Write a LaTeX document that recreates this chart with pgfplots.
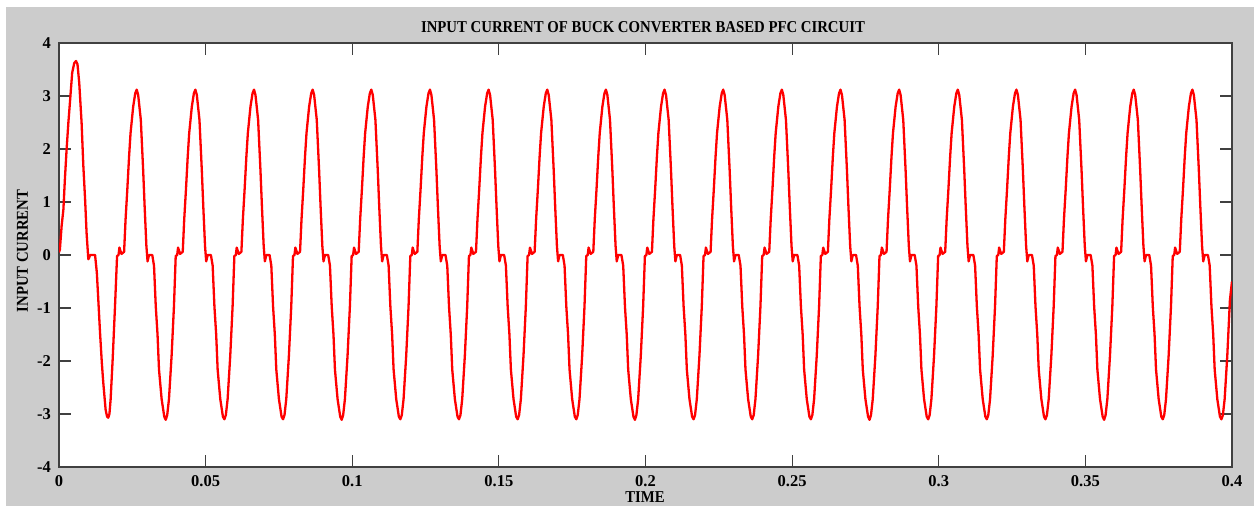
\documentclass[border=0pt]{standalone}
\usepackage{fontspec}
\setmainfont{Liberation Serif}
\usepackage{graphicx}
\usepackage{pgfplots}
\pgfplotsset{compat=1.18}
\definecolor{figgray}{RGB}{204,204,204}
\newcommand{\lblfont}{\bfseries\fontsize{16.6}{16.6}\selectfont}
\begin{document}
\begin{tikzpicture}
\path[use as bounding box] (0,0) rectangle (1254pt,506pt);
\fill[white] (0,0) rectangle (1254pt,506pt);
\fill[figgray] (6pt,0) rectangle (1254pt,499pt);
\begin{axis}[
  at={(59pt,39pt)}, anchor=south west,
  scale only axis, width=1173pt, height=424pt,
  xmin=0, xmax=0.4, ymin=-4, ymax=4,
  xtick={0,0.05,0.1,0.15,0.2,0.25,0.3,0.35,0.4},
  xticklabels={0,0.05,0.1,0.15,0.2,0.25,0.3,0.35,0.4},
  ytick={-4,-3,-2,-1,0,1,2,3,4},
  yticklabels={-4,-3,-2,-1,0,1,2,3,4},
  scaled x ticks=false, scaled y ticks=false,
  tick align=inside, tick pos=both, major tick length=12pt,
  minor tick num=0,
  axis line style={black!75, line width=1.2pt},
  tick style={black!75, line width=1.2pt},
  ticklabel style={font=\bfseries\fontsize{16.5}{16.5}\selectfont, inner sep=0pt},
  xticklabel style={yshift=-8pt},
  yticklabel style={xshift=-8pt},
  axis background/.style={fill=white},
]
\addplot[red, line width=2.3pt, line join=round] coordinates {
(0,0.05)(0.0003,0.10)(0.0009,0.55)(0.0015,0.86)(0.0020,1.42)(0.0026,2.00)(0.0032,2.50)(0.0038,2.93)(0.0045,3.44)(0.0052,3.62)(0.0058,3.66)(0.0063,3.60)(0.0069,3.25)(0.0077,2.50)(0.0083,1.68)(0.0089,1.05)(0.0094,0.42)(0.0100,-0.08)(0.0103,-0.05)(0.0106,0.00)(0.0123,0.00)(0.0129,-0.33)(0.0134,-0.84)(0.0140,-1.47)(0.0146,-2.03)(0.0151,-2.41)(0.0159,-2.92)(0.0164,-3.05)(0.0168,-3.07)(0.0172,-3.00)(0.0176,-2.73)(0.0183,-1.97)(0.0191,-0.97)(0.0198,-0.02)
(0.0203,0.00)(0.0206,0.14)(0.0213,0.02)(0.0222,0.06)(0.0227,0.67)(0.0233,1.24)(0.0239,1.86)(0.0244,2.30)(0.0253,2.80)(0.0260,3.05)(0.0265,3.12)(0.0270,3.02)(0.0279,2.55)(0.0287,1.60)(0.0292,0.92)(0.0298,0.17)(0.0302,-0.12)(0.0307,0.00)(0.0318,0.00)(0.0324,-0.20)(0.0330,-0.97)(0.0336,-1.50)(0.0341,-2.16)(0.0350,-2.72)(0.0359,-3.05)(0.0364,-3.11)(0.0369,-3.02)(0.0375,-2.72)(0.0384,-1.90)(0.0392,-0.97)(0.0398,-0.02)
(0.0403,0.00)(0.0406,0.14)(0.0413,0.02)(0.0422,0.06)(0.0427,0.67)(0.0433,1.24)(0.0439,1.86)(0.0444,2.30)(0.0453,2.80)(0.0460,3.05)(0.0465,3.12)(0.0470,3.02)(0.0479,2.55)(0.0487,1.60)(0.0492,0.92)(0.0498,0.17)(0.0502,-0.12)(0.0507,0.00)(0.0518,0.00)(0.0524,-0.20)(0.0530,-0.97)(0.0536,-1.50)(0.0541,-2.16)(0.0550,-2.72)(0.0559,-3.05)(0.0564,-3.10)(0.0569,-3.02)(0.0575,-2.72)(0.0584,-1.90)(0.0592,-0.97)(0.0598,-0.02)
(0.0603,0.00)(0.0606,0.14)(0.0613,0.02)(0.0622,0.06)(0.0627,0.67)(0.0633,1.24)(0.0639,1.86)(0.0644,2.30)(0.0653,2.80)(0.0660,3.05)(0.0665,3.12)(0.0670,3.02)(0.0679,2.55)(0.0687,1.60)(0.0692,0.92)(0.0698,0.17)(0.0702,-0.12)(0.0707,0.00)(0.0718,0.00)(0.0724,-0.20)(0.0730,-0.97)(0.0736,-1.50)(0.0741,-2.16)(0.0750,-2.72)(0.0759,-3.05)(0.0764,-3.10)(0.0769,-3.02)(0.0775,-2.72)(0.0784,-1.90)(0.0792,-0.97)(0.0798,-0.02)
(0.0803,0.00)(0.0806,0.14)(0.0813,0.02)(0.0822,0.06)(0.0827,0.67)(0.0833,1.24)(0.0839,1.86)(0.0844,2.30)(0.0853,2.80)(0.0860,3.05)(0.0865,3.12)(0.0870,3.02)(0.0879,2.55)(0.0887,1.60)(0.0892,0.92)(0.0898,0.17)(0.0902,-0.12)(0.0907,0.00)(0.0918,0.00)(0.0924,-0.20)(0.0930,-0.97)(0.0936,-1.50)(0.0941,-2.16)(0.0950,-2.72)(0.0959,-3.05)(0.0964,-3.11)(0.0969,-3.02)(0.0975,-2.72)(0.0984,-1.90)(0.0992,-0.97)(0.0998,-0.02)
(0.1003,0.00)(0.1006,0.14)(0.1013,0.02)(0.1022,0.06)(0.1027,0.67)(0.1033,1.24)(0.1039,1.86)(0.1044,2.30)(0.1053,2.80)(0.1060,3.05)(0.1065,3.12)(0.1070,3.02)(0.1079,2.55)(0.1087,1.60)(0.1092,0.92)(0.1098,0.17)(0.1102,-0.12)(0.1107,0.00)(0.1118,0.00)(0.1124,-0.20)(0.1130,-0.97)(0.1136,-1.50)(0.1141,-2.16)(0.1150,-2.72)(0.1159,-3.05)(0.1164,-3.10)(0.1169,-3.02)(0.1175,-2.72)(0.1184,-1.90)(0.1192,-0.97)(0.1198,-0.02)
(0.1203,0.00)(0.1206,0.14)(0.1213,0.02)(0.1222,0.06)(0.1227,0.67)(0.1233,1.24)(0.1239,1.86)(0.1244,2.30)(0.1253,2.80)(0.1260,3.05)(0.1265,3.12)(0.1270,3.02)(0.1279,2.55)(0.1287,1.60)(0.1292,0.92)(0.1298,0.17)(0.1302,-0.12)(0.1307,0.00)(0.1318,0.00)(0.1324,-0.20)(0.1330,-0.97)(0.1336,-1.50)(0.1341,-2.16)(0.1350,-2.72)(0.1359,-3.05)(0.1364,-3.10)(0.1369,-3.02)(0.1375,-2.72)(0.1384,-1.90)(0.1392,-0.97)(0.1398,-0.02)
(0.1403,0.00)(0.1406,0.14)(0.1413,0.02)(0.1422,0.06)(0.1427,0.67)(0.1433,1.24)(0.1439,1.86)(0.1444,2.30)(0.1453,2.80)(0.1460,3.05)(0.1465,3.12)(0.1470,3.02)(0.1479,2.55)(0.1487,1.60)(0.1492,0.92)(0.1498,0.17)(0.1502,-0.12)(0.1507,0.00)(0.1518,0.00)(0.1524,-0.20)(0.1530,-0.97)(0.1536,-1.50)(0.1541,-2.16)(0.1550,-2.72)(0.1559,-3.05)(0.1564,-3.10)(0.1569,-3.02)(0.1575,-2.72)(0.1584,-1.90)(0.1592,-0.97)(0.1598,-0.02)
(0.1603,0.00)(0.1606,0.14)(0.1613,0.02)(0.1622,0.06)(0.1627,0.67)(0.1633,1.24)(0.1639,1.86)(0.1644,2.30)(0.1653,2.80)(0.1660,3.05)(0.1665,3.12)(0.1670,3.02)(0.1679,2.55)(0.1687,1.60)(0.1692,0.92)(0.1698,0.17)(0.1702,-0.12)(0.1707,0.00)(0.1718,0.00)(0.1724,-0.20)(0.1730,-0.97)(0.1736,-1.50)(0.1741,-2.16)(0.1750,-2.72)(0.1759,-3.05)(0.1764,-3.10)(0.1769,-3.02)(0.1775,-2.72)(0.1784,-1.90)(0.1792,-0.97)(0.1798,-0.02)
(0.1803,0.00)(0.1806,0.14)(0.1813,0.02)(0.1822,0.06)(0.1827,0.67)(0.1833,1.24)(0.1839,1.86)(0.1844,2.30)(0.1853,2.80)(0.1860,3.05)(0.1865,3.12)(0.1870,3.02)(0.1879,2.55)(0.1887,1.60)(0.1892,0.92)(0.1898,0.17)(0.1902,-0.12)(0.1907,0.00)(0.1918,0.00)(0.1924,-0.20)(0.1930,-0.97)(0.1936,-1.50)(0.1941,-2.16)(0.1950,-2.72)(0.1959,-3.05)(0.1964,-3.11)(0.1969,-3.02)(0.1975,-2.72)(0.1984,-1.90)(0.1992,-0.97)(0.1998,-0.02)
(0.2003,0.00)(0.2006,0.14)(0.2013,0.02)(0.2022,0.06)(0.2027,0.67)(0.2033,1.24)(0.2039,1.86)(0.2044,2.30)(0.2053,2.80)(0.2060,3.05)(0.2065,3.12)(0.2070,3.02)(0.2079,2.55)(0.2087,1.60)(0.2092,0.92)(0.2098,0.17)(0.2102,-0.12)(0.2107,0.00)(0.2118,0.00)(0.2124,-0.20)(0.2130,-0.97)(0.2136,-1.50)(0.2141,-2.16)(0.2150,-2.72)(0.2159,-3.05)(0.2164,-3.10)(0.2169,-3.02)(0.2175,-2.72)(0.2184,-1.90)(0.2192,-0.97)(0.2198,-0.02)
(0.2203,0.00)(0.2206,0.14)(0.2213,0.02)(0.2222,0.06)(0.2227,0.67)(0.2233,1.24)(0.2239,1.86)(0.2244,2.30)(0.2253,2.80)(0.2260,3.05)(0.2265,3.12)(0.2270,3.02)(0.2279,2.55)(0.2287,1.60)(0.2292,0.92)(0.2298,0.17)(0.2302,-0.12)(0.2307,0.00)(0.2318,0.00)(0.2324,-0.20)(0.2330,-0.97)(0.2336,-1.50)(0.2341,-2.16)(0.2350,-2.72)(0.2359,-3.05)(0.2364,-3.10)(0.2369,-3.02)(0.2375,-2.72)(0.2384,-1.90)(0.2392,-0.97)(0.2398,-0.02)
(0.2403,0.00)(0.2406,0.14)(0.2413,0.02)(0.2422,0.06)(0.2427,0.67)(0.2433,1.24)(0.2439,1.86)(0.2444,2.30)(0.2453,2.80)(0.2460,3.05)(0.2465,3.12)(0.2470,3.02)(0.2479,2.55)(0.2487,1.60)(0.2492,0.92)(0.2498,0.17)(0.2502,-0.12)(0.2507,0.00)(0.2518,0.00)(0.2524,-0.20)(0.2530,-0.97)(0.2536,-1.50)(0.2541,-2.16)(0.2550,-2.72)(0.2559,-3.05)(0.2564,-3.10)(0.2569,-3.02)(0.2575,-2.72)(0.2584,-1.90)(0.2592,-0.97)(0.2598,-0.02)
(0.2603,0.00)(0.2606,0.14)(0.2613,0.02)(0.2622,0.06)(0.2627,0.67)(0.2633,1.24)(0.2639,1.86)(0.2644,2.30)(0.2653,2.80)(0.2660,3.05)(0.2665,3.12)(0.2670,3.02)(0.2679,2.55)(0.2687,1.60)(0.2692,0.92)(0.2698,0.17)(0.2702,-0.12)(0.2707,0.00)(0.2718,0.00)(0.2724,-0.20)(0.2730,-0.97)(0.2736,-1.50)(0.2741,-2.16)(0.2750,-2.72)(0.2759,-3.05)(0.2764,-3.11)(0.2769,-3.02)(0.2775,-2.72)(0.2784,-1.90)(0.2792,-0.97)(0.2798,-0.02)
(0.2803,0.00)(0.2806,0.14)(0.2813,0.02)(0.2822,0.06)(0.2827,0.67)(0.2833,1.24)(0.2839,1.86)(0.2844,2.30)(0.2853,2.80)(0.2860,3.05)(0.2865,3.12)(0.2870,3.02)(0.2879,2.55)(0.2887,1.60)(0.2892,0.92)(0.2898,0.17)(0.2902,-0.12)(0.2907,0.00)(0.2918,0.00)(0.2924,-0.20)(0.2930,-0.97)(0.2936,-1.50)(0.2941,-2.16)(0.2950,-2.72)(0.2959,-3.05)(0.2964,-3.10)(0.2969,-3.02)(0.2975,-2.72)(0.2984,-1.90)(0.2992,-0.97)(0.2998,-0.02)
(0.3003,0.00)(0.3006,0.14)(0.3013,0.02)(0.3022,0.06)(0.3027,0.67)(0.3033,1.24)(0.3039,1.86)(0.3044,2.30)(0.3053,2.80)(0.3060,3.05)(0.3065,3.12)(0.3070,3.02)(0.3079,2.55)(0.3087,1.60)(0.3092,0.92)(0.3098,0.17)(0.3102,-0.12)(0.3107,0.00)(0.3118,0.00)(0.3124,-0.20)(0.3130,-0.97)(0.3136,-1.50)(0.3141,-2.16)(0.3150,-2.72)(0.3159,-3.05)(0.3164,-3.10)(0.3169,-3.02)(0.3175,-2.72)(0.3184,-1.90)(0.3192,-0.97)(0.3198,-0.02)
(0.3203,0.00)(0.3206,0.14)(0.3213,0.02)(0.3222,0.06)(0.3227,0.67)(0.3233,1.24)(0.3239,1.86)(0.3244,2.30)(0.3253,2.80)(0.3260,3.05)(0.3265,3.12)(0.3270,3.02)(0.3279,2.55)(0.3287,1.60)(0.3292,0.92)(0.3298,0.17)(0.3302,-0.12)(0.3307,0.00)(0.3318,0.00)(0.3324,-0.20)(0.3330,-0.97)(0.3336,-1.50)(0.3341,-2.16)(0.3350,-2.72)(0.3359,-3.05)(0.3364,-3.10)(0.3369,-3.02)(0.3375,-2.72)(0.3384,-1.90)(0.3392,-0.97)(0.3398,-0.02)
(0.3403,0.00)(0.3406,0.14)(0.3413,0.02)(0.3422,0.06)(0.3427,0.67)(0.3433,1.24)(0.3439,1.86)(0.3444,2.30)(0.3453,2.80)(0.3460,3.05)(0.3465,3.12)(0.3470,3.02)(0.3479,2.55)(0.3487,1.60)(0.3492,0.92)(0.3498,0.17)(0.3502,-0.12)(0.3507,0.00)(0.3518,0.00)(0.3524,-0.20)(0.3530,-0.97)(0.3536,-1.50)(0.3541,-2.16)(0.3550,-2.72)(0.3559,-3.05)(0.3564,-3.11)(0.3569,-3.02)(0.3575,-2.72)(0.3584,-1.90)(0.3592,-0.97)(0.3598,-0.02)
(0.3603,0.00)(0.3606,0.14)(0.3613,0.02)(0.3622,0.06)(0.3627,0.67)(0.3633,1.24)(0.3639,1.86)(0.3644,2.30)(0.3653,2.80)(0.3660,3.05)(0.3665,3.12)(0.3670,3.02)(0.3679,2.55)(0.3687,1.60)(0.3692,0.92)(0.3698,0.17)(0.3702,-0.12)(0.3707,0.00)(0.3718,0.00)(0.3724,-0.20)(0.3730,-0.97)(0.3736,-1.50)(0.3741,-2.16)(0.3750,-2.72)(0.3759,-3.05)(0.3764,-3.10)(0.3769,-3.02)(0.3775,-2.72)(0.3784,-1.90)(0.3792,-0.97)(0.3798,-0.02)
(0.3803,0.00)(0.3806,0.14)(0.3813,0.02)(0.3822,0.06)(0.3827,0.67)(0.3833,1.24)(0.3839,1.86)(0.3844,2.30)(0.3853,2.80)(0.3860,3.05)(0.3865,3.12)(0.3870,3.02)(0.3879,2.55)(0.3887,1.60)(0.3892,0.92)(0.3898,0.17)(0.3902,-0.12)(0.3907,0.00)(0.3918,0.00)(0.3924,-0.20)(0.3930,-0.97)(0.3936,-1.50)(0.3941,-2.16)(0.3950,-2.72)(0.3959,-3.05)(0.3964,-3.10)(0.3969,-3.02)(0.3975,-2.72)(0.3984,-1.90)(0.3993,-0.85)(0.4000,-0.50)
};
\end{axis}
\node[anchor=base, inner sep=0pt, font=\lblfont] at (643pt,473.3pt) {\scalebox{0.89}[1]{INPUT CURRENT OF BUCK CONVERTER BASED PFC CIRCUIT}};
\node[rotate=90, anchor=center, inner sep=0pt, font=\lblfont] at (22.5pt,255pt) {\scalebox{0.89}[1]{INPUT CURRENT}};
\node[anchor=north, inner sep=0pt, font=\lblfont] at (645pt,14.5pt) {\scalebox{0.89}[1]{TIME}};
\end{tikzpicture}
\end{document}
